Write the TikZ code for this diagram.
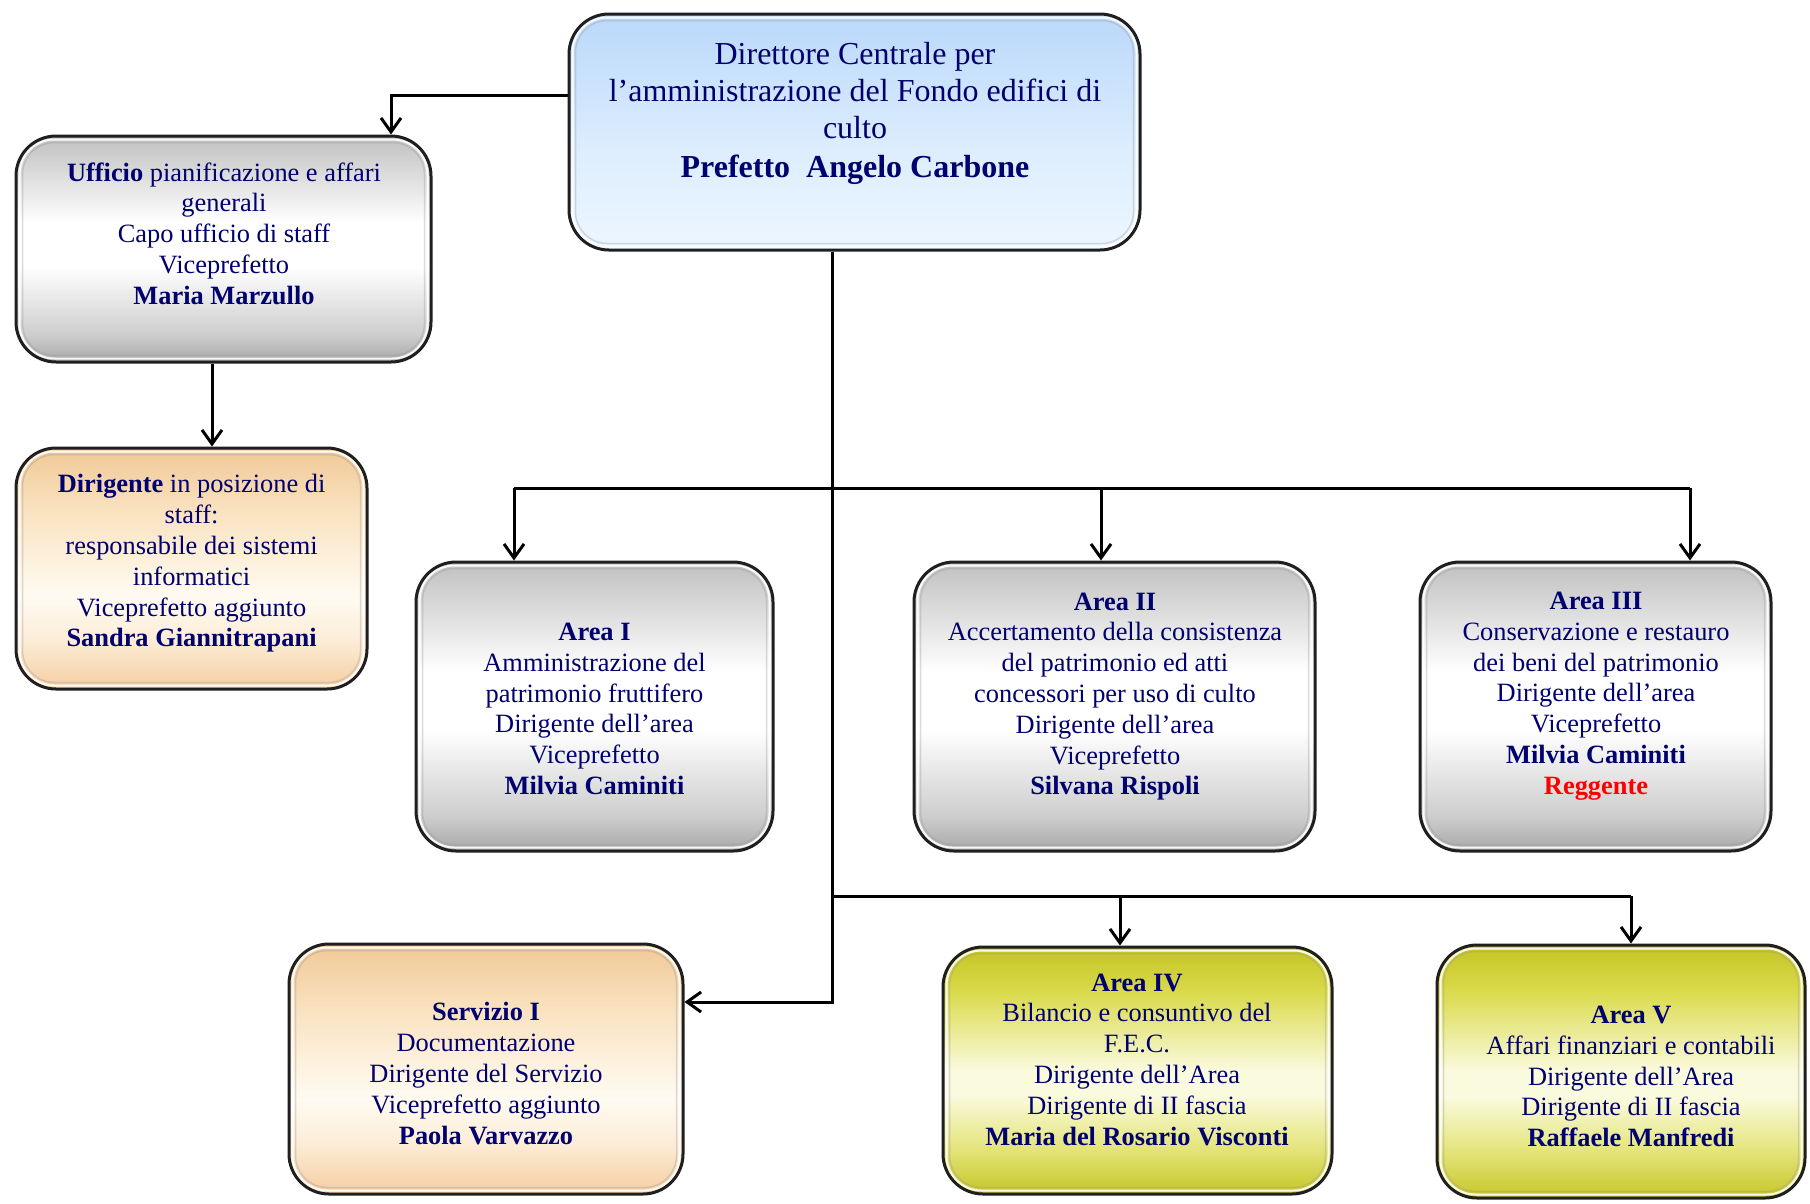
\documentclass[tikz,border=0pt]{standalone}
\usepackage{fontspec}
\setmainfont{Liberation Serif}
\usetikzlibrary{arrows.meta,calc}

\definecolor{navy}{RGB}{0,0,110}
\definecolor{gA}{RGB}{168,168,168}
\definecolor{gB}{RGB}{205,205,205}
\definecolor{gC}{RGB}{215,215,215}
\definecolor{gD}{RGB}{192,192,192}
\definecolor{bA}{RGB}{236,246,255}
\definecolor{bB}{RGB}{222,238,254}
\definecolor{bC}{RGB}{186,216,250}
\definecolor{oA}{RGB}{245,205,160}
\definecolor{oB}{RGB}{252,236,214}
\definecolor{oW}{RGB}{255,251,242}
\definecolor{oC}{RGB}{250,226,192}
\definecolor{oD}{RGB}{240,200,150}
\definecolor{yA}{RGB}{198,198,38}
\definecolor{yB}{RGB}{230,230,130}
\definecolor{yW}{RGB}{250,250,222}
\definecolor{yC}{RGB}{218,218,75}
\definecolor{yD}{RGB}{196,196,36}

\pgfdeclareverticalshading{gshade}{100bp}{color(0bp)=(gA); color(25bp)=(gA); color(31bp)=(gB); color(46bp)=(white); color(56bp)=(white); color(68bp)=(gC); color(75bp)=(gD); color(100bp)=(gD)}
\pgfdeclareverticalshading{bshade}{100bp}{color(0bp)=(bA); color(25bp)=(bA); color(45bp)=(bB); color(75bp)=(bC); color(100bp)=(bC)}
\pgfdeclareverticalshading{oshade}{100bp}{color(0bp)=(oA); color(25bp)=(oA); color(35bp)=(oB); color(44bp)=(oW); color(62bp)=(oC); color(75bp)=(oD); color(100bp)=(oD)}
\pgfdeclareverticalshading{yshade}{100bp}{color(0bp)=(yA); color(25bp)=(yA); color(35bp)=(yB); color(45bp)=(yW); color(50bp)=(yW); color(66bp)=(yC); color(75bp)=(yD); color(100bp)=(yD)}

\tikzset{
  box/.style={rectangle, rounded corners=40pt, draw=black!88, line width=3pt, inner sep=0pt},
  rimline/.style={rounded corners=35pt, draw=white, line width=2pt, opacity=.9},
  rimdark/.style={rounded corners=32pt, draw=black!40, line width=1.5pt, opacity=.35},
  txt/.style={align=center, text=navy, inner sep=0pt, font=\fontsize{26.4}{30.8}\selectfont},
  bigtxt/.style={align=center, text=navy, inner sep=0pt, font=\fontsize{32}{37}\selectfont},
  conn/.style={line width=3pt, draw=black},
  arr/.style={conn, -{Straight Barb[length=14pt,width=20pt]}},
}
\newcommand\boxrim[1]{%
  \draw[rimline] ([shift={(5pt,5pt)}]#1.south west) rectangle ([shift={(-5pt,-5pt)}]#1.north east);
  \draw[rimdark] ([shift={(8pt,8pt)}]#1.south west) rectangle ([shift={(-8pt,-8pt)}]#1.north east);}

\begin{document}
\begin{tikzpicture}[x=1pt,y=-1pt]
\useasboundingbox (0,0) rectangle (1810,1203);

% boxes
\node[box, shading=bshade, minimum width=571pt, minimum height=236pt] (top) at (854.5,132) {};
\node[box, shading=gshade, minimum width=415pt, minimum height=226pt] (uff) at (223.5,249) {};
\node[box, shading=oshade, minimum width=351pt, minimum height=241pt] (dir) at (191.5,568.5) {};
\node[box, shading=gshade, minimum width=357pt, minimum height=289pt] (a1) at (594.5,706.5) {};
\node[box, shading=gshade, minimum width=401pt, minimum height=289pt] (a2) at (1114.5,706.5) {};
\node[box, shading=gshade, minimum width=351pt, minimum height=289pt] (a3) at (1595.5,706.5) {};
\node[box, shading=oshade, minimum width=394pt, minimum height=250pt] (serv) at (486,1069) {};
\node[box, shading=yshade, minimum width=389pt, minimum height=247pt] (a4) at (1137.5,1070.5) {};
\node[box, shading=yshade, minimum width=368pt, minimum height=253pt] (a5) at (1621,1071.5) {};

\boxrim{top}\boxrim{uff}\boxrim{dir}\boxrim{a1}\boxrim{a2}\boxrim{a3}\boxrim{serv}\boxrim{a4}\boxrim{a5}

% texts
\node[bigtxt] (ttop) at (855,113.5) {Direttore Centrale per\\l’amministrazione del Fondo edifici di\\culto\\[2pt]\textbf{Prefetto\ \ Angelo Carbone}};
\node[txt] (tuff) at (224,233.5) {\textbf{Ufficio} pianificazione e affari\\generali\\Capo ufficio di staff\\Viceprefetto\\\textbf{Maria Marzullo}};
\node[txt] (tdir) at (191.6,563.5) {\textbf{Dirigente} in posizione di\\staff:\\responsabile dei sistemi\\informatici\\Viceprefetto aggiunto\\\textbf{Sandra Giannitrapani}};
\node[txt] (ta1) at (594.5,709) {\textbf{Area I}\\Amministrazione del\\patrimonio fruttifero\\Dirigente dell’area\\Viceprefetto\\\textbf{Milvia Caminiti}};
\node[txt] (ta2) at (1115,696.5) {\textbf{Area II}\\Accertamento della consistenza\\del patrimonio ed atti\\concessori per uso di culto\\Dirigente dell’area\\Viceprefetto\\\textbf{Silvana Rispoli}};
\node[txt] (ta3) at (1596,696) {\textbf{Area III}\\Conservazione e restauro\\dei beni del patrimonio\\Dirigente dell’area\\Viceprefetto\\\textbf{Milvia Caminiti}\\\textbf{\textcolor{red}{Reggente}}};
\node[txt] (tserv) at (486,1073.5) {\textbf{Servizio I}\\Documentazione\\Dirigente del Servizio\\Viceprefetto aggiunto\\\textbf{Paola Varvazzo}};
\node[txt] (ta4) at (1137,1059.6) {\textbf{Area IV}\\Bilancio e consuntivo del\\F.E.C.\\Dirigente dell’Area\\Dirigente di II fascia\\\textbf{Maria del Rosario Visconti}};
\node[txt] (ta5) at (1631,1076.5) {\textbf{Area V}\\Affari finanziari e contabili\\Dirigente dell’Area\\Dirigente di II fascia\\\textbf{Raffaele Manfredi}};

% junction coordinates
\coordinate (j1) at (391,95);
\coordinate (j2) at (212,400);
\coordinate (trunk) at (832,1002);
\coordinate (b1) at (514,488);
\coordinate (b2) at (1101,488);
\coordinate (b3) at (1690,488);
\coordinate (c0) at (832,896);
\coordinate (c1) at (1120,896);
\coordinate (c2) at (1631,896);

% connectors
\draw[arr] (j1 -| top.west) -- (j1) -- (j1 |- uff.north);
\draw[arr] (j2 |- uff.south) -- (j2 |- dir.north);
\draw[arr] (trunk |- top.south) -- (trunk) -- (trunk -| serv.east);
\draw[conn] (b1) -- (b3);
\draw[arr] (b1) -- (b1 |- a1.north);
\draw[arr] (b2) -- (b2 |- a2.north);
\draw[arr] (b3) -- (b3 |- a3.north);
\draw[conn] (c0) -- (c2);
\draw[arr] (c1) -- (c1 |- a4.north);
\draw[arr] (c2) -- (c2 |- a5.north);
\end{tikzpicture}
\end{document}
